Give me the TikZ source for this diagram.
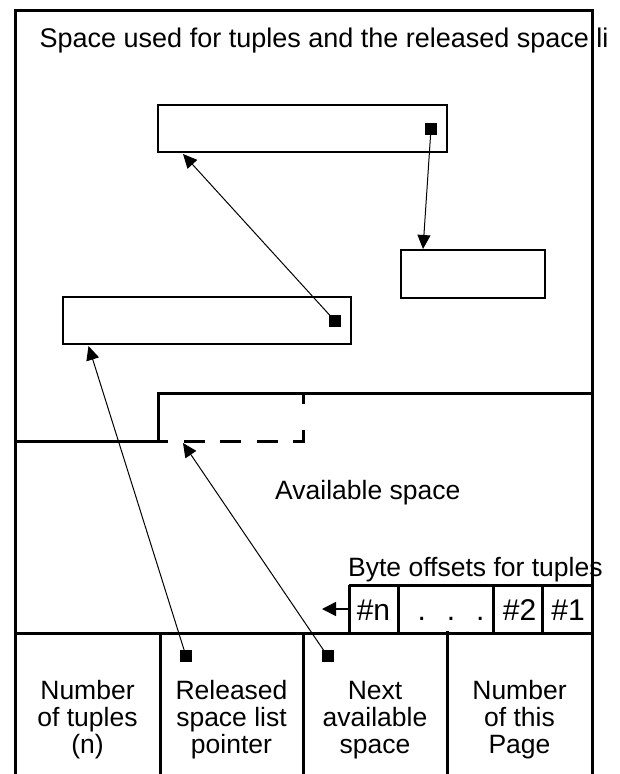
\documentclass[tikz,border=0pt]{standalone}
\usepackage{fontspec}
\setmainfont{Liberation Sans}
\usetikzlibrary{arrows.meta}
\tikzset{
  frameline/.style={line width=3pt, line join=miter},
  boxline/.style={draw, line width=2.5pt, inner sep=0pt},
  marker/.style={fill=black, minimum size=12pt, inner sep=0pt},
  ptr/.style={line width=1pt, -{Triangle[length=14pt,width=13pt]}},
  txt/.style={font=\fontsize{26.5}{27}\selectfont, inner sep=0pt},
  celltxt/.style={font=\fontsize{30}{32}\selectfont, inner sep=0pt, anchor=base},
  coltxt/.style={font=\fontsize{26.5}{27}\selectfont, inner sep=0pt, align=center, anchor=center}
}
\begin{document}
\begin{tikzpicture}[x=1pt,y=-1pt]
\useasboundingbox (0,0) rectangle (619,774);
% outer frame
\draw[frameline] (15,774) -- (15,10) -- (592,10) -- (592,774);
\node[txt, anchor=base west, font=\fontsize{27}{30}\selectfont] (title) at (39.5,47.5) {Space used for tuples and the released space li};
% boxes
\node[boxline, minimum width=289pt, minimum height=47pt] (boxA) at (302.5,128.5) {};
\node[boxline, minimum width=144pt, minimum height=48pt] (boxB) at (473,274) {};
\node[boxline, minimum width=288pt, minimum height=47pt] (boxC) at (207,320.5) {};
% markers
\node[marker] (mA) at (431,128.5) {};
\node[marker] (mC) at (335,321) {};
\node[marker] (mR) at (186,656) {};
\node[marker] (mN) at (327.5,656) {};
% arrow targets
\coordinate (tB) at (423,249);
\coordinate (tA) at (183,154);
\coordinate (tC) at (88.5,346);
\coordinate (tF) at (183,443);
\draw[ptr] (mA.center) -- (tB);
\draw[ptr] (mC.center) -- (tA);
\draw[ptr] (mR.center) -- (tC);
\draw[ptr] (mN.center) -- (tF);
% available space boundary
\draw[frameline] (15,441) -- (158,441) -- (158,393) -- (592,393);
\draw[line width=3pt, dash pattern=on 21pt off 15.5pt] (303,430) -- (303,441) -- (158,441);
\draw[line width=3pt] (303,393) -- (303,404);
\node[txt, anchor=base west] (avail) at (275,499) {Available space};
% byte offsets
\node[txt, anchor=base west] (bytes) at (348,576) {Byte offsets for tuples};
\draw[frameline] (349,585) -- (592,585);
\draw[frameline] (349,585) -- (349,633);
\draw[frameline] (398,585) -- (398,633);
\draw[frameline] (493,585) -- (493,633);
\draw[frameline] (542,585) -- (542,633);
\node[celltxt] (cn) at (373.5,620) {\#n};
\node[celltxt] (cdots) at (451,620) {.\hspace{21pt}.\hspace{21pt}.};
\node[celltxt] (c2) at (519.5,620) {\#2};
\node[celltxt] (c1) at (568,620) {\#1};
\coordinate (leftend) at (322,609);
\draw[line width=1.5pt, -{Triangle[length=14pt,width=14pt]}] (cn.west |- 0,609) ++(-8.5,0) -- (leftend);
% bottom row
\draw[frameline] (15,633) -- (592,633);
\draw[frameline] (160,633) -- (160,774);
\draw[frameline] (303,633) -- (303,774);
\draw[frameline] (447,631) -- (447,774);
\node[coltxt] (col1) at (87.5,720) {Number\\of tuples\\(n)};
\node[coltxt] (col2) at (231.5,720) {Released\\space list\\pointer};
\node[coltxt] (col3) at (375,720) {Next\\available\\space};
\node[coltxt] (col4) at (519.5,720) {Number\\of this\\Page};
\end{tikzpicture}
\end{document}
